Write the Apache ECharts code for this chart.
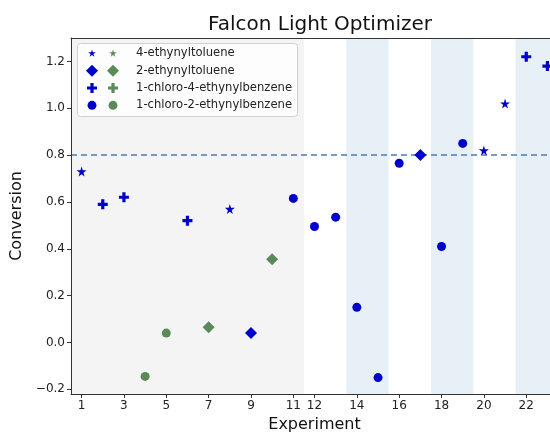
<!DOCTYPE html>
<html><head><meta charset="utf-8">
<script src="https://cdn.jsdelivr.net/npm/echarts@6/dist/echarts.min.js"></script>
<style>html,body{margin:0;padding:0;background:#fff}#c{width:550px;height:433px}</style>
</head><body><div id="c"></div>
<script>
// Data (experiment, conversion)
const ethynyltolueneBlue4 = [[1,0.73],[8,0.57],[20,0.82],[21,1.02]];
const ethynyltolueneBlue2 = [[9,0.04],[17,0.80]];
const ethynyltolueneGreen2 = [[7,0.065],[10,0.355]];
const chloro4Blue = [[2,0.59],[3,0.62],[6,0.52],[22,1.22],[23,1.18]];
const chloro2Blue = [[11,0.615],[12,0.495],[13,0.535],[14,0.15],[15,-0.15],[16,0.765],[18,0.41],[19,0.85]];
const chloro2Green = [[4,-0.145],[5,0.04]];
const xTicks = [1,3,5,7,9,11,12,14,16,18,20,22];
const yTicks = [-0.2,0,0.2,0.4,0.6,0.8,1.0,1.2];
const targetLine = 0.8;
const greyRegion = [0.5, 11.5];
const blueBands = [[13.5,15.5],[17.5,19.5],[21.5,23.5]];
const legendNames = ['4-ethynyltoluene','2-ethynyltoluene','1-chloro-4-ethynylbenzene','1-chloro-2-ethynylbenzene'];

const BLUE = '#0000cc', GREEN = '#5a8a5a';
const STAR_D = 'M50,0 L61,35 L98,35 L68,57 L79,91 L50,70 L21,91 L32,57 L2,35 L39,35 Z';
const PLUS_D = 'M34,0 H66 V34 H100 V66 H66 V100 H34 V66 H0 V34 H34 Z';
const CIRC_D = 'M100,50 A50,50 0 1 1 0,50 A50,50 0 1 1 100,50 Z';
const pad = (d, p) => 'path://' + d + ` M${-p},${-p} L${-p},${-p} M${100+p},${100+p} L${100+p},${100+p}`;
const shapes = {star:['path://'+STAR_D,10], diamond:['diamond',12], plus:['path://'+PLUS_D,10], circle:['circle',9]};
const legendIcons = [pad(STAR_D,25), 'diamond', pad(PLUS_D,10), pad(CIRC_D,17)];

function sc(name, data, shape, color, extra) {
  return Object.assign({
    name, type:'scatter', data, symbol: shapes[shape][0], symbolSize: shapes[shape][1],
    itemStyle:{color, opacity:1}, z:5, clip:true
  }, extra||{});
}

const series = [
  sc('b0', ethynyltolueneBlue4, 'star', BLUE, {
    markArea:{silent:true, data:[
      [{xAxis:greyRegion[0], itemStyle:{color:'#f4f4f4'}},{xAxis:greyRegion[1]}],
      ...blueBands.map(b=>[{xAxis:b[0], itemStyle:{color:'#e7f0f7'}},{xAxis:b[1]}])
    ]},
    markLine:{silent:true, symbol:'none', label:{show:false},
      lineStyle:{color:'#4e7bb5', type:[6,4], width:1.5},
      data:[{yAxis:targetLine}]}
  }),
  sc('g0', [], 'star', GREEN),
  sc('b1', ethynyltolueneBlue2, 'diamond', BLUE),
  sc('g1', ethynyltolueneGreen2, 'diamond', GREEN),
  sc('b2', chloro4Blue, 'plus', BLUE),
  sc('g2', [], 'plus', GREEN),
  sc('b3', chloro2Blue, 'circle', BLUE),
  sc('g3', chloro2Green, 'circle', GREEN)
];

const legendText = {fontFamily:'DejaVu Sans', fontSize:11.6, color:'#222', lineHeight:13.8};
const legendCommon = {orient:'vertical', top:41.5, itemGap:3.5, itemHeight:12, itemWidth:12,
  selectedMode:false, z:8, itemStyle:{opacity:1}};

const chart = echarts.init(document.getElementById('c'), null, {renderer:'canvas'});
chart.setOption({
  animation:false,
  backgroundColor:'#fff',
  title:{text:'Falcon Light Optimizer', left:315, textAlign:'center', top:10,
    textStyle:{fontFamily:'DejaVu Sans', fontSize:20, fontWeight:'normal', color:'#111'}},
  grid:{left:71, top:38, right:-8, bottom:39, outerBoundsMode:'none'},
  legend:[
    Object.assign({}, legendCommon, {left:81, data:['b0','b1','b2','b3'].map((n,i)=>({name:n, icon:legendIcons[i]})),
      formatter:()=> ' ', textStyle:legendText}),
    Object.assign({}, legendCommon, {left:102, data:['g0','g1','g2','g3'].map((n,i)=>({name:n, icon:legendIcons[i]})),
      formatter:(n)=> legendNames[+n.slice(1)],
      textStyle:Object.assign({}, legendText, {padding:[0,0,0,12]})})
  ],
  graphic:[{type:'rect', left:77, top:43, z:7, silent:true,
    shape:{width:220, height:73, r:3}, style:{fill:'rgba(255,255,255,0.8)', stroke:'#d0d0d0', lineWidth:1}}],
  xAxis:[{type:'value', min:0.5, max:23.5, name:'Experiment', nameLocation:'middle', nameGap:23, z:10,
    nameTextStyle:{fontFamily:'DejaVu Sans', fontSize:16, color:'#111'},
    axisLine:{show:true, onZero:false, lineStyle:{color:'#333'}},
    axisTick:{show:true, customValues:xTicks, length:4, lineStyle:{color:'#333'}},
    axisLabel:{customValues:xTicks, fontFamily:'DejaVu Sans', fontSize:12, color:'#222', margin:6},
    splitLine:{show:false}},
   {type:'value', position:'top', min:0.5, max:23.5, z:10,
    axisLine:{show:true, onZero:false, lineStyle:{color:'#333'}},
    axisTick:{show:false}, axisLabel:{show:false}, splitLine:{show:false}}],
  yAxis:{type:'value', min:-0.22, max:1.3, name:'Conversion', nameLocation:'middle', nameGap:37, z:10,
    nameTextStyle:{fontFamily:'DejaVu Sans', fontSize:16, color:'#111'},
    axisLine:{show:true, onZero:false, lineStyle:{color:'#333'}},
    axisTick:{show:true, customValues:yTicks, length:4, lineStyle:{color:'#333'}},
    axisLabel:{customValues:yTicks, fontFamily:'DejaVu Sans', fontSize:12, color:'#222', margin:6,
      formatter:(v)=> (v<0?'\u2212':'') + Math.abs(v).toFixed(1)},
    splitLine:{show:false}},
  series
});
</script></body></html>
